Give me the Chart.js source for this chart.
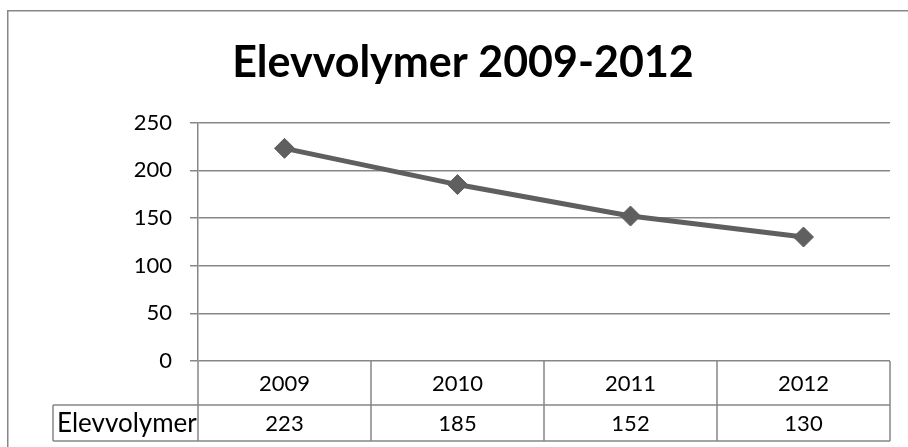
<!DOCTYPE html>
<html>
<head>
<meta charset="utf-8">
<script src="https://cdn.jsdelivr.net/npm/chart.js@4/dist/chart.umd.min.js"></script>
<style>
html,body{margin:0;padding:0;background:#fff;}
#wrap{position:relative;width:908px;height:447px;}
</style>
</head>
<body>
<div id="wrap"><canvas id="c" width="908" height="447"></canvas></div>
<script>
const titleText = 'Elevvolymer 2009-2012';
const categories = ['2009', '2010', '2011', '2012'];
const seriesName = 'Elevvolymer';
const values = [223, 185, 152, 130];
const yMin = 0, yMax = 250, yStep = 50;

const GRID = '#878787';
const LINE = '#5f5f5f';
const FONT = 'Lato, "Open Sans", sans-serif';

const frame = {
  id: 'frame',
  afterLayout(chart) {
    const t = chart.titleBlock;
    if (t) { t.left += 14; t.right += 14; }
  },
  beforeDraw(chart) {
    const ctx = chart.ctx;
    ctx.save();
    ctx.fillStyle = '#fff';
    ctx.fillRect(0, 0, chart.width, chart.height);
    ctx.strokeStyle = GRID;
    ctx.lineWidth = 1.5;
    ctx.strokeRect(7.75, 10.75, chart.width + 20, chart.height + 20);
    ctx.restore();
  }
};

const dataTable = {
  id: 'dataTable',
  afterDraw(chart) {
    const ctx = chart.ctx;
    const a = chart.chartArea;
    const x = chart.scales.x;
    const n = categories.length;
    const colW = (a.right - a.left) / n;
    const top = a.bottom;
    const mid = top + 44;
    const bot = mid + 36;
    const labelLeft = 53;
    ctx.save();
    ctx.strokeStyle = GRID;
    ctx.lineWidth = 1.5;
    ctx.beginPath();
    ctx.moveTo(labelLeft, mid); ctx.lineTo(a.right, mid);
    ctx.moveTo(labelLeft, bot); ctx.lineTo(a.right, bot);
    ctx.moveTo(labelLeft, mid); ctx.lineTo(labelLeft, bot);
    for (let i = 0; i <= n; i++) {
      const px = a.left + i * colW;
      ctx.moveTo(px, top); ctx.lineTo(px, bot);
    }
    ctx.stroke();
    ctx.fillStyle = '#000';
    ctx.textBaseline = 'middle';
    ctx.textAlign = 'center';
    ctx.font = '22px ' + FONT;
    categories.forEach((c, i) => {
      const cx = x.getPixelForValue(i);
      ctx.fillText(c, cx, (top + mid) / 2 + 1);
      ctx.fillText(String(values[i]), cx, (mid + bot) / 2 + 1);
    });
    ctx.textAlign = 'left';
    ctx.font = '26px ' + FONT;
    ctx.fillText(seriesName, labelLeft + 4, (mid + bot) / 2 + 1);
    ctx.restore();
  }
};

new Chart(document.getElementById('c'), {
  type: 'line',
  data: {
    labels: categories,
    datasets: [{
      label: seriesName,
      data: values,
      borderColor: LINE,
      backgroundColor: LINE,
      borderWidth: 5,
      pointStyle: 'rectRot',
      pointRadius: 10,
      pointBorderWidth: 1,
      pointBackgroundColor: LINE,
      pointBorderColor: LINE,
      tension: 0
    }]
  },
  options: {
    responsive: false,
    animation: false,
    devicePixelRatio: 1,
    layout: { padding: { left: 8, right: 18, top: 0, bottom: 86 } },
    plugins: {
      legend: { display: false },
      tooltip: { enabled: false },
      title: {
        display: true,
        text: titleText,
        color: '#000',
        font: { family: FONT, size: 43, weight: 'bold', lineHeight: 1.2 },
        padding: { top: 37, bottom: 34 }
      }
    },
    scales: {
      x: {
        type: 'category',
        offset: true,
        display: false,
        grid: { display: false }
      },
      y: {
        min: yMin,
        max: yMax,
        ticks: {
          stepSize: yStep,
          color: '#000',
          font: { family: FONT, size: 22 },
          padding: 18
        },
        grid: {
          color: GRID,
          lineWidth: 1.5,
          tickLength: 8,
          drawTicks: true
        },
        border: { display: true, color: GRID, width: 1.5 },
        afterFit(s) { s.width = 190; }
      }
    }
  },
  plugins: [frame, dataTable]
});
</script>
</body>
</html>
